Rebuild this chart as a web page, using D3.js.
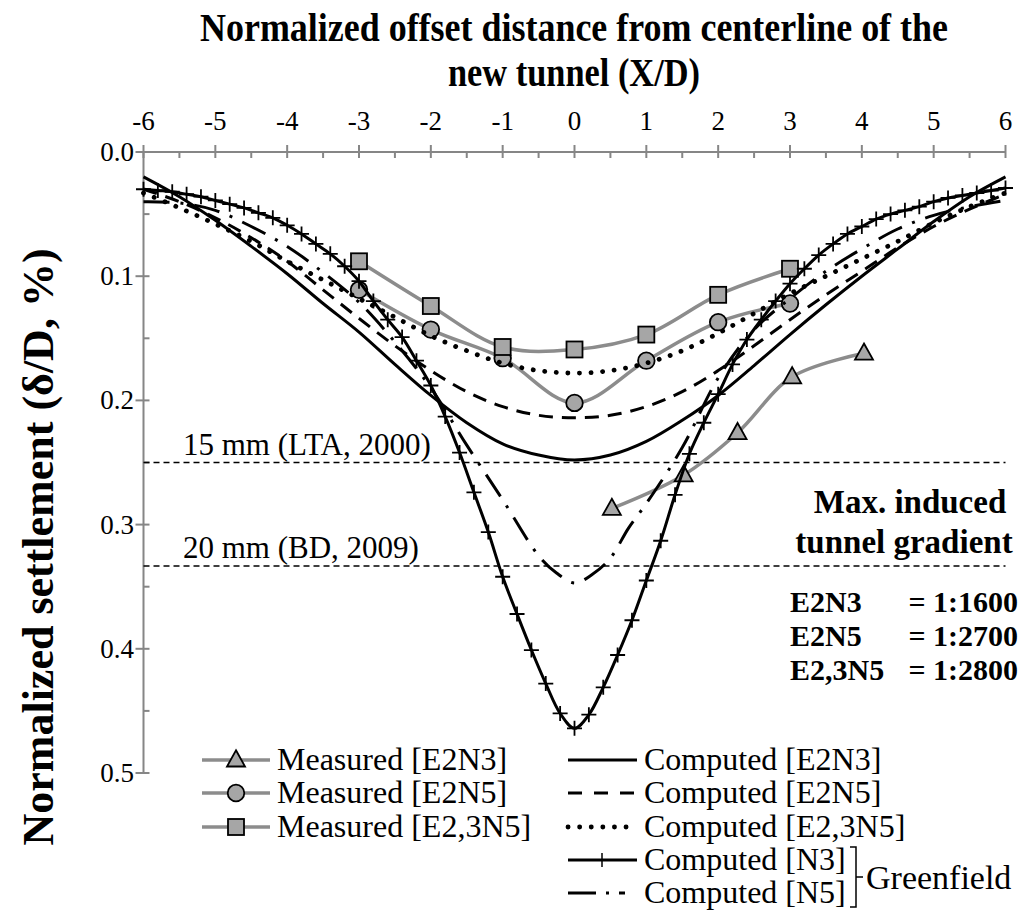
<!DOCTYPE html>
<html>
<head>
<meta charset="utf-8">
<script src="https://cdn.jsdelivr.net/npm/d3@7"></script>
<style>
  html, body { margin: 0; padding: 0; background: #fff; }
  svg { display: block; }
  text { font-family: "Liberation Serif", "Times New Roman", serif; fill: #000; }
</style>
</head>
<body>
<svg id="chart" width="1026" height="913"></svg>
<script>
// ---- data ----
const xTicks = [-6, -5, -4, -3, -2, -1, 0, 1, 2, 3, 4, 5, 6];
const yTicks = [0, 0.1, 0.2, 0.3, 0.4, 0.5];
const yTickLabels = ["0.0", "0.1", "0.2", "0.3", "0.4", "0.5"];

// measured settlement troughs
const measE2N3 = [[0.52, 0.287], [1.52, 0.260], [2.27, 0.226], [3.03, 0.181], [4.03, 0.162]];
const measE2N5 = [[-3, 0.111], [-2, 0.143], [-1, 0.166], [0, 0.202], [1, 0.168], [2, 0.137], [3, 0.122]];
const measE23N5 = [[-3, 0.088], [-2, 0.124], [-1, 0.157], [0, 0.159], [1, 0.147], [2, 0.115], [3, 0.094]];

// computed troughs
const compE2N3 = [[-6, 0.020], [-5.5, 0.036], [-5, 0.055], [-4.5, 0.076], [-4, 0.098], [-3.5, 0.122], [-3, 0.145],
  [-2.5, 0.171], [-2, 0.196], [-1.5, 0.218], [-1, 0.235], [-0.5, 0.244], [0, 0.248], [0.5, 0.244], [1, 0.233],
  [1.5, 0.216], [2, 0.196], [2.5, 0.172], [3, 0.147], [3.5, 0.123], [4, 0.100], [4.5, 0.078], [5, 0.056],
  [5.5, 0.036], [6, 0.020]];
const compE2N5 = [[-6, 0.030], [-5.5, 0.040], [-5, 0.053], [-4.5, 0.069], [-4, 0.088], [-3.5, 0.111], [-3, 0.134],
  [-2.5, 0.156], [-2, 0.176], [-1.5, 0.193], [-1, 0.205], [-0.5, 0.212], [0, 0.214], [0.5, 0.212], [1, 0.205],
  [1.5, 0.193], [2, 0.176], [2.5, 0.156], [3, 0.135], [3.5, 0.115], [4, 0.096], [4.5, 0.077], [5, 0.060],
  [5.5, 0.046], [6, 0.034]];
const compE23N5 = [[-6, 0.033], [-5.5, 0.045], [-5, 0.058], [-4.5, 0.072], [-4, 0.088], [-3.5, 0.103], [-3, 0.118],
  [-2.5, 0.133], [-2, 0.148], [-1.5, 0.160], [-1, 0.170], [-0.5, 0.176], [0, 0.178], [0.5, 0.176], [1, 0.170],
  [1.5, 0.160], [2, 0.146], [2.5, 0.130], [3, 0.114], [3.5, 0.100], [4, 0.086], [4.5, 0.072], [5, 0.057],
  [5.5, 0.044], [6, 0.033]];
const compN3 = [[-6.0, 0.030], [-5.8, 0.031], [-5.6, 0.032], [-5.4, 0.034], [-5.2, 0.036], [-5.0, 0.039],
  [-4.8, 0.042], [-4.6, 0.045], [-4.4, 0.049], [-4.2, 0.053], [-4.0, 0.059], [-3.8, 0.066], [-3.6, 0.074],
  [-3.4, 0.082], [-3.2, 0.092], [-3.0, 0.104], [-2.8, 0.120], [-2.6, 0.135], [-2.4, 0.149], [-2.2, 0.168],
  [-2.0, 0.188], [-1.8, 0.213], [-1.6, 0.242], [-1.4, 0.274], [-1.2, 0.306], [-1.0, 0.342], [-0.8, 0.372],
  [-0.6, 0.401], [-0.4, 0.428], [-0.2, 0.452], [0.0, 0.464], [0.2, 0.453], [0.4, 0.431], [0.6, 0.405],
  [0.8, 0.377], [1.0, 0.345], [1.2, 0.313], [1.4, 0.276], [1.6, 0.243], [1.8, 0.218], [2.0, 0.195],
  [2.2, 0.171], [2.4, 0.151], [2.6, 0.135], [2.8, 0.120], [3.0, 0.106], [3.2, 0.094], [3.4, 0.083],
  [3.6, 0.074], [3.8, 0.066], [4.0, 0.060], [4.2, 0.054], [4.4, 0.050], [4.6, 0.047], [4.8, 0.044],
  [5.0, 0.040], [5.2, 0.037], [5.4, 0.035], [5.6, 0.033], [5.8, 0.031], [6.0, 0.029]];
const compN5 = [[-6, 0.040], [-5.5, 0.041], [-5, 0.047], [-4.5, 0.060], [-4, 0.076], [-3.5, 0.097], [-3, 0.121],
  [-2.5, 0.153], [-2, 0.190], [-1.5, 0.236], [-1, 0.280], [-0.5, 0.325], [-0.25, 0.339], [0, 0.347],
  [0.25, 0.340], [0.5, 0.327], [0.75, 0.303], [1, 0.283], [1.5, 0.238], [2, 0.182], [2.5, 0.143], [3, 0.118],
  [3.5, 0.096], [4, 0.078], [4.5, 0.062], [5, 0.051], [5.5, 0.044], [6, 0.039]];

// allowable settlement limits (δ/D, %)
const limits = [
  { value: 0.25, label: "15 mm (LTA, 2000)" },
  { value: 0.3333, label: "20 mm (BD, 2009)" }
];

const gradientRows = [
  { name: "E2N3", ratio: "= 1:1600" },
  { name: "E2N5", ratio: "= 1:2700" },
  { name: "E2,3N5", ratio: "= 1:2800" }
];

// ---- drawing ----
const svg = d3.select("#chart");
const x = d3.scaleLinear().domain([-6, 6]).range([143.5, 1005.5]);
const y = d3.scaleLinear().domain([0, 0.5]).range([152, 773]);
const axisColor = "#868686";
const measColor = "#8c8c8c";
const markFill = "#a6a6a6";

// top axis
const gAxis = svg.append("g");
gAxis.append("line").attr("x1", x(-6)).attr("x2", x(6)).attr("y1", y(0)).attr("y2", y(0))
  .attr("stroke", axisColor).attr("stroke-width", 2);
xTicks.forEach(t => {
  gAxis.append("line").attr("x1", x(t)).attr("x2", x(t)).attr("y1", y(0) - 7).attr("y2", y(0) + 6)
    .attr("stroke", axisColor).attr("stroke-width", 2);
  gAxis.append("text").attr("x", x(t)).attr("y", 130).attr("text-anchor", "middle")
    .style("font-size", "27px").text(t);
});
d3.range(-5.5, 6, 1).forEach(t => {
  gAxis.append("line").attr("x1", x(t)).attr("x2", x(t)).attr("y1", y(0)).attr("y2", y(0) + 6)
    .attr("stroke", axisColor).attr("stroke-width", 2);
});

// left axis
gAxis.append("line").attr("x1", x(-6)).attr("x2", x(-6)).attr("y1", y(0)).attr("y2", y(0.5))
  .attr("stroke", axisColor).attr("stroke-width", 2);
yTicks.forEach((t, i) => {
  gAxis.append("line").attr("x1", x(-6) - 8).attr("x2", x(-6) + 6).attr("y1", y(t)).attr("y2", y(t))
    .attr("stroke", axisColor).attr("stroke-width", 2);
  gAxis.append("text").attr("x", 134).attr("y", y(t) + 9).attr("text-anchor", "end")
    .style("font-size", "27px").text(yTickLabels[i]);
});
[0.05, 0.15, 0.25, 0.35, 0.45].forEach(t => {
  gAxis.append("line").attr("x1", x(-6)).attr("x2", x(-6) + 6).attr("y1", y(t)).attr("y2", y(t))
    .attr("stroke", axisColor).attr("stroke-width", 2);
});

// axis titles
svg.append("text").attr("x", 574).attr("y", 41).attr("text-anchor", "middle")
  .attr("textLength", 748).attr("lengthAdjust", "spacingAndGlyphs")
  .style("font-size", "39px").style("font-weight", "bold")
  .text("Normalized offset distance from centerline of the");
svg.append("text").attr("x", 574).attr("y", 86).attr("text-anchor", "middle")
  .attr("textLength", 252).attr("lengthAdjust", "spacingAndGlyphs")
  .style("font-size", "39px").style("font-weight", "bold")
  .text("new tunnel (X/D)");
svg.append("text").attr("transform", "translate(53,547) rotate(-90)").attr("text-anchor", "middle")
  .style("font-size", "44px").style("font-weight", "bold")
  .text("Normalized settlement (δ/D, %)");

// limit lines
limits.forEach(l => {
  svg.append("line").attr("x1", x(-6)).attr("x2", x(6)).attr("y1", y(l.value)).attr("y2", y(l.value))
    .attr("stroke", "#000").attr("stroke-width", 1.5).attr("stroke-dasharray", "6,4");
  svg.append("text").attr("x", 183).attr("y", y(l.value) - 8).style("font-size", "31px").text(l.label);
});

const line = d3.line().x(d => x(d[0])).y(d => y(d[1])).curve(d3.curveCatmullRom.alpha(0.5));

// marker shapes
function triPath(s) { const h = s * 0.9; return `M0,${-h * 0.6}L${s / 2},${h * 0.4}L${-s / 2},${h * 0.4}Z`; }
function drawMarker(g, kind, cx, cy) {
  if (kind === "tri") {
    g.append("path").attr("d", triPath(18)).attr("transform", `translate(${cx},${cy})`)
      .attr("fill", markFill).attr("stroke", "#000").attr("stroke-width", 1.8);
  } else if (kind === "circ") {
    g.append("circle").attr("cx", cx).attr("cy", cy).attr("r", 8.3)
      .attr("fill", markFill).attr("stroke", "#000").attr("stroke-width", 1.8);
  } else {
    g.append("rect").attr("x", cx - 8).attr("y", cy - 8).attr("width", 16).attr("height", 16)
      .attr("fill", markFill).attr("stroke", "#000").attr("stroke-width", 1.8);
  }
}

const measured = [
  { data: measE2N3, kind: "tri", label: "Measured [E2N3]" },
  { data: measE2N5, kind: "circ", label: "Measured [E2N5]" },
  { data: measE23N5, kind: "sq", label: "Measured [E2,3N5]" }
];
const computed = [
  { data: compE2N3, dash: null, width: 3, label: "Computed [E2N3]" },
  { data: compE2N5, dash: "14,9", legendDash: "14,12", width: 3, label: "Computed [E2N5]" },
  { data: compE23N5, dash: "0.1,11.5", width: 4.8, cap: "round", label: "Computed [E2,3N5]" },
  { data: compN3, dash: null, width: 3, plus: true, label: "Computed [N3]" },
  { data: compN5, dash: "26,11,3,11", legendDash: "28,10,3,10,6,20", width: 3, label: "Computed [N5]" }
];

const gMeas = svg.append("g");
measured.forEach(s => {
  gMeas.append("path").attr("d", line(s.data)).attr("fill", "none")
    .attr("stroke", measColor).attr("stroke-width", 3.5);
});
measured.forEach(s => s.data.forEach(d => drawMarker(gMeas, s.kind, x(d[0]), y(d[1]))));

const gComp = svg.append("g");
computed.forEach(s => {
  const p = gComp.append("path").attr("d", line(s.data)).attr("fill", "none")
    .attr("stroke", "#000").attr("stroke-width", s.width);
  if (s.dash) p.attr("stroke-dasharray", s.dash);
  if (s.cap) p.attr("stroke-linecap", s.cap);
  if (s.plus) {
    s.data.forEach(d => {
      const cx = x(d[0]), cy = y(d[1]);
      gComp.append("path").attr("d", `M${cx - 7.5},${cy}H${cx + 7.5}M${cx},${cy - 7.5}V${cy + 7.5}`)
        .attr("stroke", "#000").attr("stroke-width", 1.8);
    });
  }
});

// right-hand annotation
const gAnn = svg.append("g").style("font-weight", "bold");
gAnn.append("text").attr("x", 910).attr("y", 513).attr("text-anchor", "middle").style("font-size", "33px").text("Max. induced");
gAnn.append("text").attr("x", 904).attr("y", 553).attr("text-anchor", "middle").style("font-size", "33px").text("tunnel gradient");
gradientRows.forEach((r, i) => {
  const by = 612 + i * 34;
  gAnn.append("text").attr("x", 790).attr("y", by).style("font-size", "30px").text(r.name);
  gAnn.append("text").attr("x", 1018).attr("y", by).attr("text-anchor", "end").style("font-size", "30px").text(r.ratio);
});

// legend
const rowY = [760, 793, 827, 860, 893];
const gLeg = svg.append("g");
measured.forEach((s, i) => {
  const cy = rowY[i];
  gLeg.append("line").attr("x1", 202).attr("x2", 270).attr("y1", cy).attr("y2", cy)
    .attr("stroke", measColor).attr("stroke-width", 3.5);
  drawMarker(gLeg, s.kind, 236, cy);
  gLeg.append("text").attr("x", 277).attr("y", cy + 10).style("font-size", "32px").text(s.label);
});
computed.forEach((s, i) => {
  const cy = rowY[i];
  const l = gLeg.append("line").attr("x1", 568).attr("x2", 637).attr("y1", cy).attr("y2", cy)
    .attr("stroke", "#000").attr("stroke-width", s.width);
  if (s.dash) l.attr("stroke-dasharray", s.legendDash || s.dash);
  if (s.cap) l.attr("stroke-linecap", s.cap);
  if (s.plus) {
    gLeg.append("path").attr("d", `M602,${cy - 7}V${cy + 7}`).attr("stroke", "#000").attr("stroke-width", 1.5);
  }
  gLeg.append("text").attr("x", 644).attr("y", cy + 10).style("font-size", "32px").text(s.label);
});
// greenfield bracket
gLeg.append("path").attr("d", "M850,847H856V907H850M856,877H863")
  .attr("fill", "none").attr("stroke", "#000").attr("stroke-width", 1.5);
gLeg.append("text").attr("x", 866).attr("y", 889).style("font-size", "34px").text("Greenfield");
</script>
</body>
</html>
